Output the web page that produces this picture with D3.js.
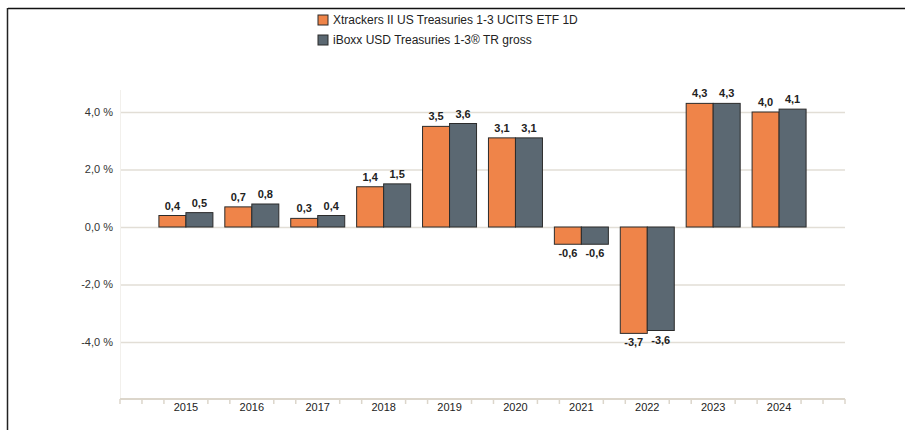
<!DOCTYPE html>
<html>
<head>
<meta charset="utf-8">
<script src="https://cdn.jsdelivr.net/npm/d3@7"></script>
<style>
  body { margin: 0; background: #fff; }
  svg { display: block; font-family: "Liberation Sans", Arial, sans-serif; }
</style>
</head>
<body>
<div id="chart-container"></div>
<script>
// data
const years = ["2015", "2016", "2017", "2018", "2019", "2020", "2021", "2022", "2023", "2024"];
const fundValues = [0.4, 0.7, 0.3, 1.4, 3.5, 3.1, -0.6, -3.7, 4.3, 4.0];
const indexValues = [0.5, 0.8, 0.4, 1.5, 3.6, 3.1, -0.6, -3.6, 4.3, 4.1];
const seriesNames = ["Xtrackers II US Treasuries 1-3 UCITS ETF 1D", "iBoxx USD Treasuries 1-3® TR gross"];
const yTicks = [-4, -2, 0, 2, 4];

const colors = ["#ef8449", "#5b6872"];
const width = 905, height = 430;

const svg = d3.select("#chart-container")
    .append("svg")
    .attr("width", width)
    .attr("height", height);

// frame
svg.append("line").attr("x1", 8).attr("x2", width).attr("y1", 8.5).attr("y2", 8.5)
    .attr("stroke", "#111").attr("stroke-width", 1.5);
svg.append("line").attr("x1", 7.5).attr("x2", 7.5).attr("y1", 8).attr("y2", height)
    .attr("stroke", "#222").attr("stroke-width", 1.5);

// scales: one empty slot before and after the years
const slots = ["_a"].concat(years, ["_b"]);
const x = d3.scalePoint().domain(slots).range([120, 845]);
const step = x.step();
const y = d3.scaleLinear().domain([-4, 4]).range([342, 112]);
const barW = 27;

// gridlines
svg.append("g")
    .selectAll("line")
    .data(yTicks)
    .enter()
    .append("line")
    .attr("x1", 120).attr("x2", 845)
    .attr("y1", d => y(d) + 0.5).attr("y2", d => y(d) + 0.5)
    .attr("stroke", "#e2ded6").attr("stroke-width", 1.5);

svg.append("line").attr("x1", 120.5).attr("x2", 120.5).attr("y1", 90).attr("y2", 399)
    .attr("stroke", "#f2f0ec").attr("stroke-width", 1);

// y labels
svg.append("g")
    .selectAll("text")
    .data(yTicks)
    .enter()
    .append("text")
    .attr("x", 113)
    .attr("y", d => y(d))
    .attr("dy", "0.35em")
    .attr("text-anchor", "end")
    .style("font-size", "11px")
    .attr("fill", "#333")
    .text(d => d3.format(".1f")(d).replace(".", ",").replace("−", "-") + " %");

// bars
const groups = [fundValues, indexValues];
groups.forEach((vals, s) => {
    svg.append("g")
        .selectAll("rect")
        .data(vals)
        .enter()
        .append("rect")
        .attr("x", (d, i) => x(years[i]) - barW + s * barW)
        .attr("y", d => y(Math.max(0, d)))
        .attr("width", barW)
        .attr("height", d => Math.abs(y(d) - y(0)))
        .attr("fill", colors[s])
        .attr("stroke", "#2b2b2b")
        .attr("stroke-width", 1);

    svg.append("g")
        .selectAll("text")
        .data(vals)
        .enter()
        .append("text")
        .attr("x", (d, i) => x(years[i]) - barW / 2 + s * barW)
        .attr("y", d => d >= 0 ? y(d) - 6 : y(d) + 13)
        .attr("text-anchor", "middle")
        .style("font-size", "11px")
        .style("font-weight", "bold")
        .attr("fill", "#222")
        .text(d => d3.format(".1f")(d).replace(".", ",").replace("−", "-"));
});

// bottom axis
const axisY = 399;
svg.append("line").attr("x1", 120).attr("x2", 845).attr("y1", axisY).attr("y2", axisY)
    .attr("stroke", "#dcd6cb").attr("stroke-width", 2);
const minor = [];
slots.forEach((s, i) => {
    const cx = x(s);
    if (i === 0 || i === slots.length - 1) minor.push(cx);
    if (i < slots.length - 1) { minor.push(cx + step / 3); minor.push(cx + 2 * step / 3); }
});
svg.append("g")
    .selectAll("line")
    .data(minor)
    .enter()
    .append("line")
    .attr("x1", d => d).attr("x2", d => d)
    .attr("y1", axisY).attr("y2", axisY + 5)
    .attr("stroke", "#dcd6cb").attr("stroke-width", 1.5);
svg.append("g")
    .selectAll("text")
    .data(years)
    .enter()
    .append("text")
    .attr("x", d => x(d))
    .attr("y", 411)
    .attr("text-anchor", "middle")
    .style("font-size", "11px")
    .attr("fill", "#222")
    .text(d => d);

// legend
const legend = svg.append("g")
    .selectAll("g")
    .data(seriesNames)
    .enter()
    .append("g")
    .attr("transform", (d, i) => `translate(318, ${15 + i * 20})`);
legend.append("rect")
    .attr("width", 10).attr("height", 10)
    .attr("fill", (d, i) => colors[i])
    .attr("stroke", "#2b2b2b").attr("stroke-width", 1);
legend.append("text")
    .attr("x", 15).attr("y", 5)
    .attr("dy", "0.35em")
    .style("font-size", "12px")
    .attr("fill", "#222")
    .text(d => d);
</script>
</body>
</html>
